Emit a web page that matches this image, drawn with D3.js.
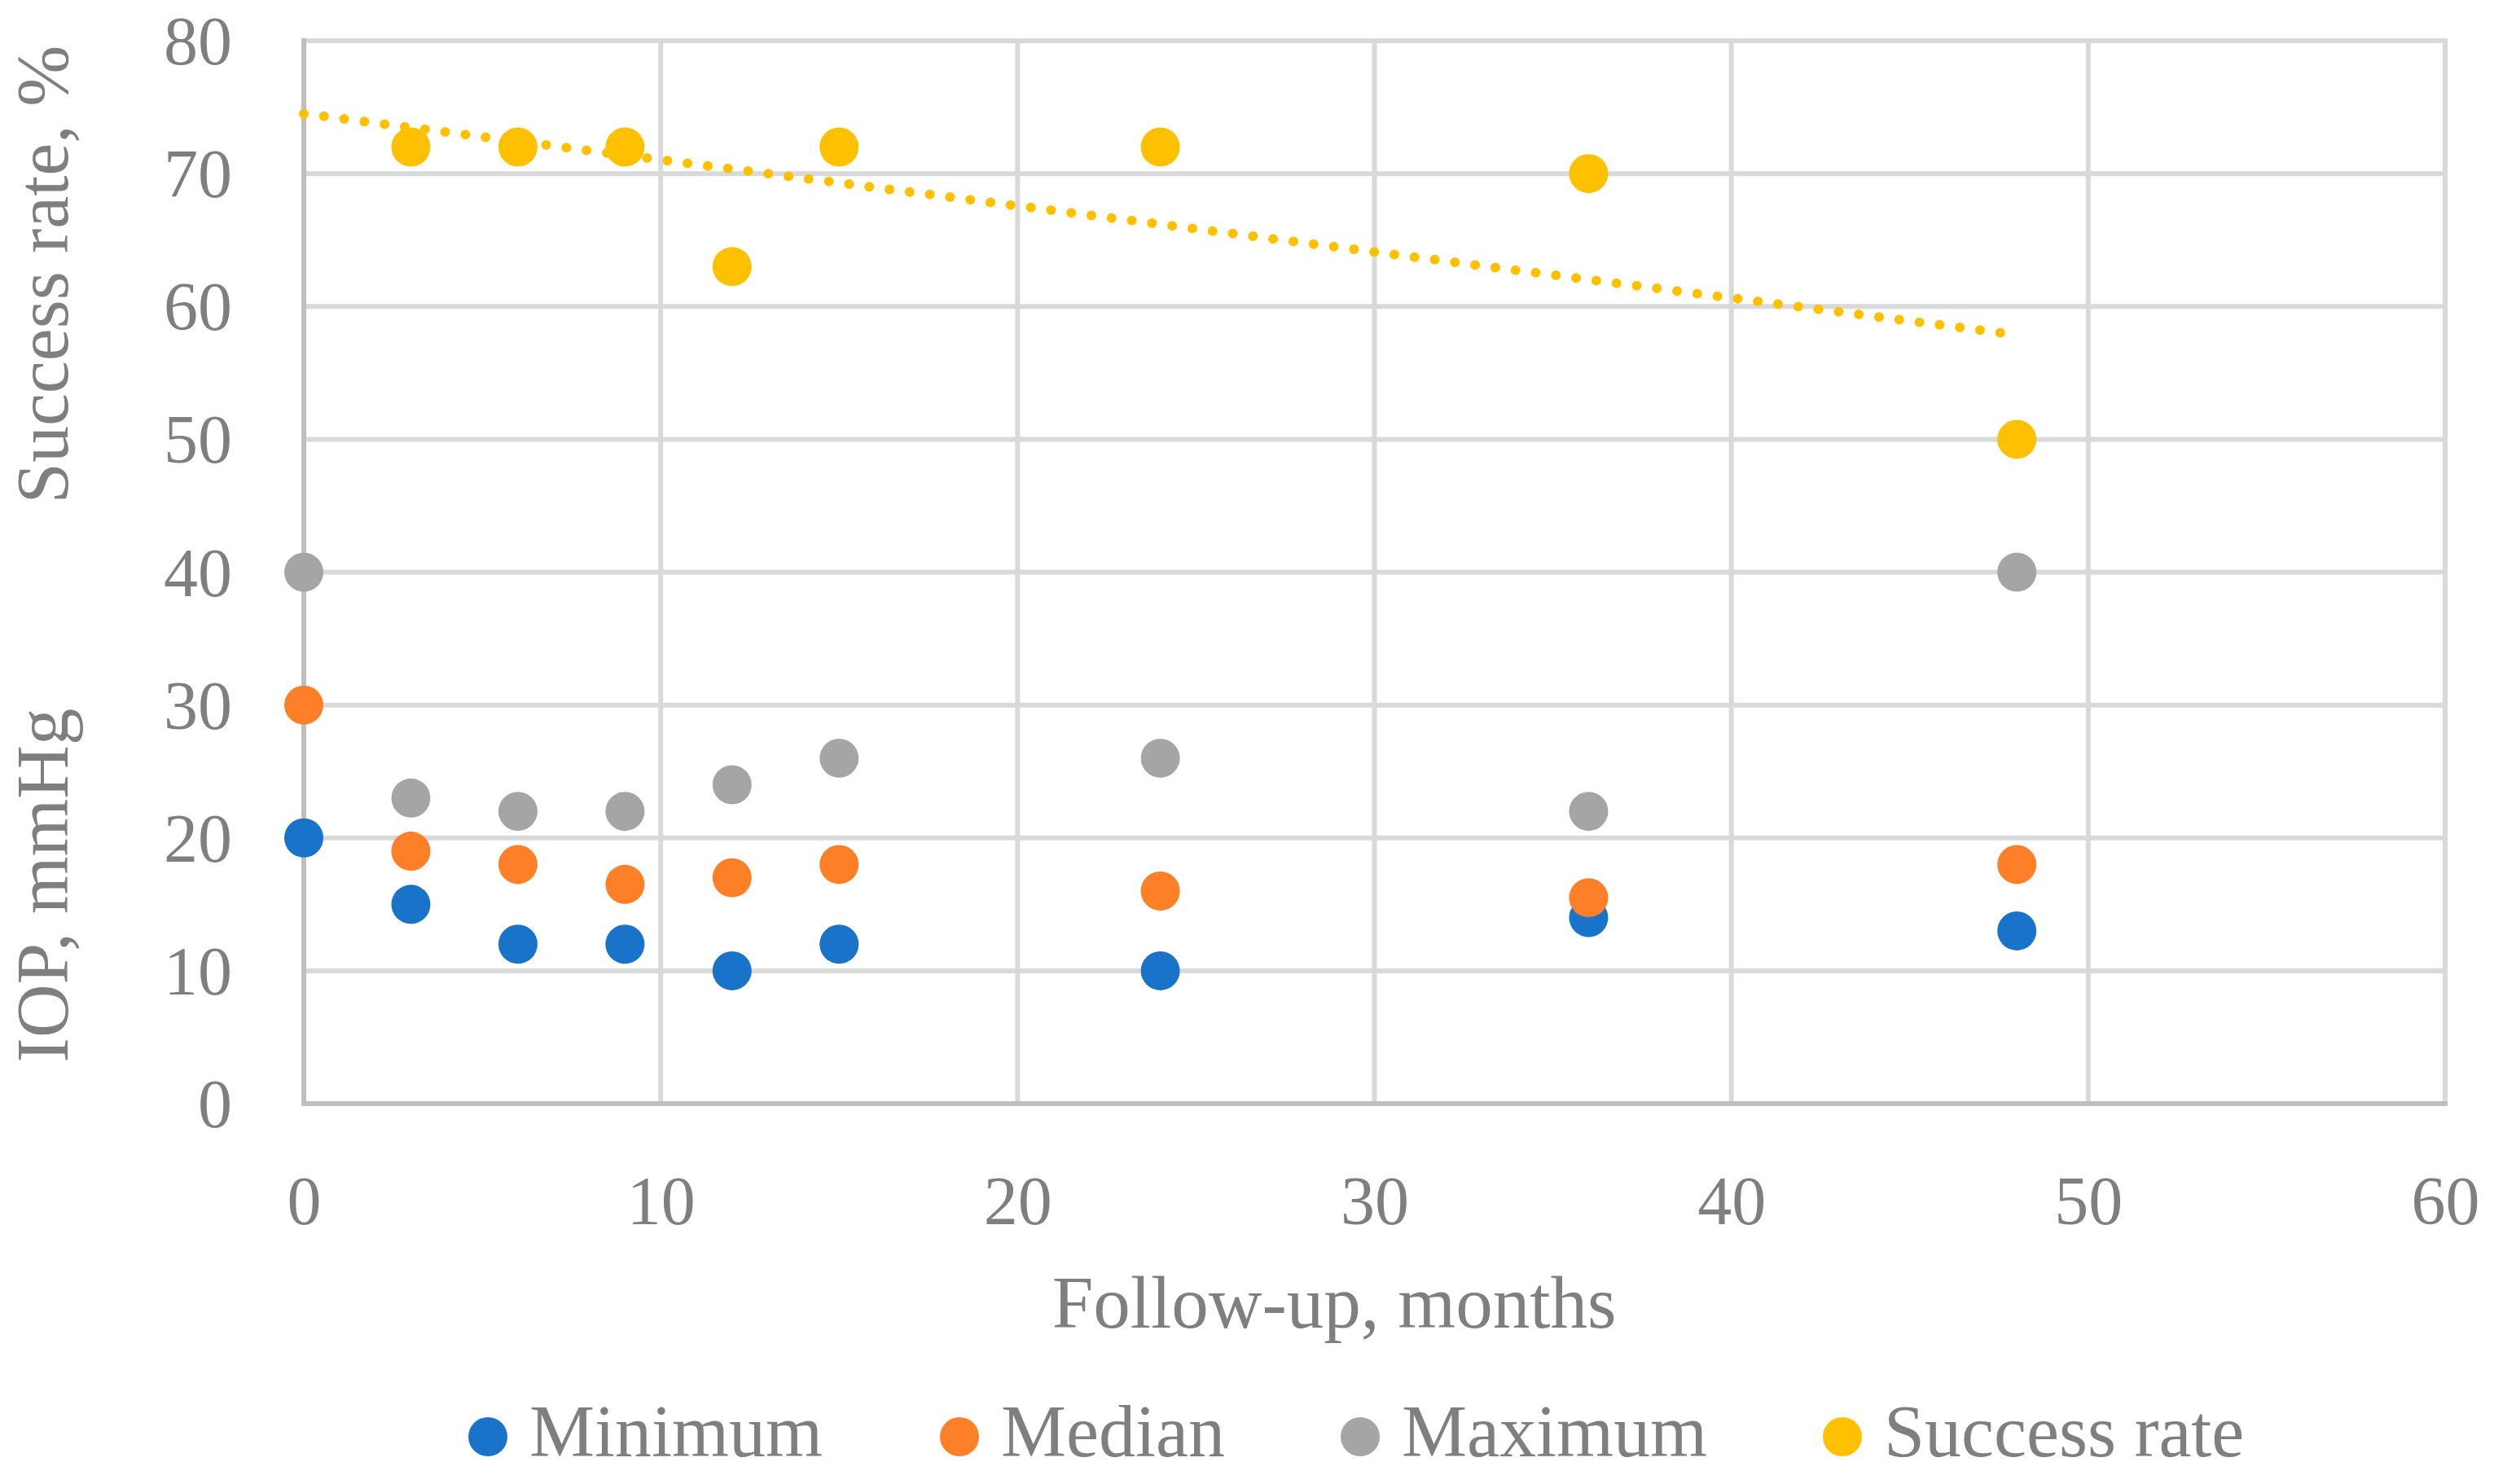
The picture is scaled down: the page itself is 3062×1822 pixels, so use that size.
<!DOCTYPE html>
<html>
<head>
<meta charset="utf-8">
<script src="https://cdn.jsdelivr.net/npm/d3@7"></script>
<style>
  body { margin: 0; background: #fff; }
  text { font-family: "Liberation Serif", "Times New Roman", serif; fill: #7f7f7f; }
</style>
</head>
<body>
<div id="chart"></div>
<script>
// Data
const months      = [0, 3, 6, 9, 12, 15, 24, 36, 48];
const minimum     = [20, 15, 12, 12, 10, 12, 10, 14, 13];
const median      = [30, 19, 18, 16.5, 17, 18, 16, 15.5, 18];
const maximum     = [40, 23, 22, 22, 24, 26, 26, 22, 40];
const successX    = [3, 6, 9, 12, 15, 24, 36, 48];
const successRate = [72, 72, 72, 63, 72, 72, 70, 50];
const xTicks = [0, 10, 20, 30, 40, 50, 60];
const yTicks = [0, 10, 20, 30, 40, 50, 60, 70, 80];
const seriesNames = ["Minimum", "Median", "Maximum", "Success rate"];

const colors = ["#1873c9", "#fd7f27", "#a5a5a5", "#ffc000"];

const W = 3062, H = 1822;
const plot = { left: 373, right: 3002, top: 50, bottom: 1355 };

const svg = d3.select("#chart")
    .append("svg")
    .attr("width", W)
    .attr("height", H);

const x = d3.scaleLinear().domain([0, 60]).range([plot.left, plot.right]);
const y = d3.scaleLinear().domain([0, 80]).range([plot.bottom, plot.top]);

// Gridlines
const grid = svg.append("g").attr("stroke", "#d9d9d9").attr("stroke-width", 6);
grid.selectAll(".hgrid")
    .data(yTicks.slice(1))
    .join("line")
    .attr("x1", plot.left).attr("x2", plot.right)
    .attr("y1", d => y(d)).attr("y2", d => y(d));
grid.selectAll(".vgrid")
    .data(xTicks.slice(1))
    .join("line")
    .attr("x1", d => x(d)).attr("x2", d => x(d))
    .attr("y1", plot.top - 3).attr("y2", plot.bottom);

// Axis lines
svg.append("line")
    .attr("x1", plot.left).attr("x2", plot.left)
    .attr("y1", plot.top - 3).attr("y2", plot.bottom + 3)
    .attr("stroke", "#bfbfbf").attr("stroke-width", 6);
svg.append("line")
    .attr("x1", plot.left - 3).attr("x2", plot.right + 3)
    .attr("y1", plot.bottom).attr("y2", plot.bottom)
    .attr("stroke", "#bfbfbf").attr("stroke-width", 6);

// Tick labels
const xAxis = svg.append("g")
    .attr("transform", `translate(0,${plot.bottom})`)
    .call(d3.axisBottom(x).tickValues(xTicks).tickSize(0).tickFormat(d3.format("d")));
xAxis.select(".domain").remove();
xAxis.selectAll("text")
    .attr("y", 148).attr("dy", null)
    .style("font-size", "84px")
    .attr("fill", "#7f7f7f");

const yAxis = svg.append("g")
    .attr("transform", `translate(${plot.left},0)`)
    .call(d3.axisLeft(y).tickValues(yTicks).tickSize(0).tickFormat(d3.format("d")));
yAxis.select(".domain").remove();
yAxis.selectAll("text")
    .attr("x", -88).attr("dy", "0.34em")
    .style("font-size", "84px")
    .attr("fill", "#7f7f7f");

// Axis titles
svg.append("text")
    .attr("x", 1638).attr("y", 1630)
    .attr("text-anchor", "middle")
    .style("font-size", "91px")
    .text("Follow-up, months");

svg.append("text")
    .attr("transform", "translate(83,337) rotate(-90)")
    .attr("text-anchor", "middle")
    .style("font-size", "90px")
    .text("Success rate, %");

svg.append("text")
    .attr("transform", "translate(83,1087) rotate(-90)")
    .attr("text-anchor", "middle")
    .style("font-size", "91px")
    .text("IOP, mmHg");

// Markers
const r = 24;
const iopSeries = [minimum, median, maximum];
iopSeries.forEach((vals, i) => {
    svg.append("g")
        .selectAll("circle")
        .data(months.map((m, j) => ({ m, v: vals[j] })))
        .join("circle")
        .attr("cx", d => x(d.m))
        .attr("cy", d => y(d.v))
        .attr("r", r)
        .attr("fill", colors[i]);
});

svg.append("g")
    .selectAll("circle")
    .data(successX.map((m, j) => ({ m, v: successRate[j] })))
    .join("circle")
    .attr("cx", d => x(d.m))
    .attr("cy", d => y(d.v))
    .attr("r", r)
    .attr("fill", colors[3]);

// Linear trendline (least squares) for success rate, drawn from 0 to last month
const mx = d3.mean(successX), my = d3.mean(successRate);
const slope = d3.sum(successX, (d, i) => (d - mx) * (successRate[i] - my)) /
              d3.sum(successX, d => (d - mx) * (d - mx));
const intercept = my - slope * mx;
const trendEnds = [0, d3.max(successX)];
svg.append("path")
    .datum(trendEnds)
    .attr("d", d3.line().x(d => x(d)).y(d => y(intercept + slope * d)))
    .attr("fill", "none")
    .attr("stroke", colors[3])
    .attr("stroke-width", 12)
    .attr("stroke-linecap", "round")
    .attr("stroke-dasharray", "0 25");

// Legend
const legendX = [599, 1178, 1670, 2262];
const legend = svg.append("g");
seriesNames.forEach((name, i) => {
    legend.append("circle")
        .attr("cx", legendX[i]).attr("cy", 1764)
        .attr("r", r)
        .attr("fill", colors[i]);
    legend.append("text")
        .attr("x", legendX[i] + 51).attr("y", 1788)
        .style("font-size", "90px")
        .text(name);
});
</script>
</body>
</html>
